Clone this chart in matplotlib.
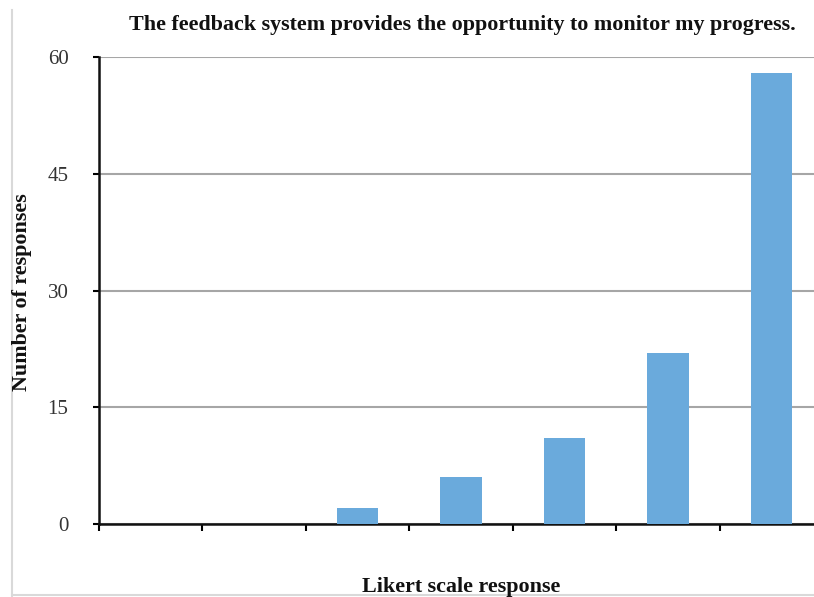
"""
Likert scale bar chart: feedback system / monitoring progress
"""

import matplotlib
matplotlib.use('Agg')
import matplotlib.pyplot as plt
from matplotlib.lines import Line2D

# Data
categories = [1, 2, 3, 4, 5, 6, 7]
responses = [0, 0, 2, 6, 11, 22, 58]
y_ticks = [0, 15, 30, 45, 60]

title = 'The feedback system provides the opportunity to monitor my progress.'

plt.rcParams['font.family'] = ['Liberation Serif', 'DejaVu Serif']

fig = plt.figure(figsize=(8.14, 5.97), dpi=100)
# axes spans from x=99px to the right edge, y from 57px to 524px
ax = fig.add_axes([99 / 814, 1 - 524 / 597, 1 - 99 / 814, (524 - 57) / 597])

x = [c - 1 for c in categories]
ax.bar(x, responses, width=0.4, color='#6aaadc', zorder=3)

ax.set_ylim(0, 60)
ax.set_xlim(-0.5, 6.41)
ax.set_yticks(y_ticks)
ax.set_yticklabels([str(t) for t in y_ticks], fontsize=15, color='#333333')
ax.tick_params(axis='y', length=4, width=1.5, direction='out', pad=18)

# category boundary ticks without labels
ax.set_xticks([i - 0.5 for i in range(7)])
ax.set_xticklabels([])
ax.tick_params(axis='x', length=5, width=1.5, direction='out')

ax.yaxis.grid(True, color='#a6a6a6', linewidth=1.5, zorder=0)
ax.set_axisbelow(True)

for side in ['top', 'right']:
    ax.spines[side].set_visible(False)
for side in ['left', 'bottom']:
    ax.spines[side].set_linewidth(1.8)
    ax.spines[side].set_color('#111111')

fig.text(462 / 814, 1 - 25 / 597, title, ha='center', va='center',
         fontsize=15.8, fontweight='bold', color='#111111')
fig.text(461 / 814, 1 - 587 / 597, 'Likert scale response', ha='center', va='center',
         fontsize=15.8, fontweight='bold', color='#111111')
fig.text(22 / 814, 1 - 292 / 597, 'Number of responses', ha='center', va='center',
         rotation=90, fontsize=15.8, fontweight='bold', color='#111111')

# light frame lines at left and bottom of the picture
fig.add_artist(Line2D([12 / 814, 12 / 814], [1 - 596 / 597, 1 - 10 / 597],
                      color='#d9d9d9', linewidth=1.5, transform=fig.transFigure))
fig.add_artist(Line2D([12 / 814, 1], [1 - 595 / 597, 1 - 595 / 597],
                      color='#d9d9d9', linewidth=1.5, transform=fig.transFigure))

fig.savefig('out.png', dpi=100)
